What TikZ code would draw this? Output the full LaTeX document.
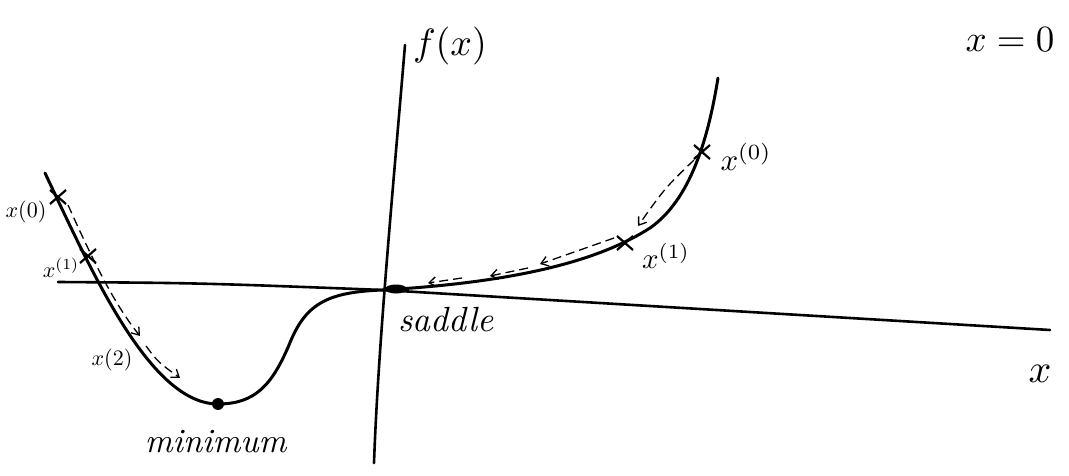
\documentclass[tikz,border=0pt]{standalone}
\usetikzlibrary{arrows.meta,shapes.geometric,calc}
\begin{document}
\begin{tikzpicture}[x=1pt,y=-1pt,
  axis/.style={line width=2.6pt,line cap=round},
  curve/.style={line width=3pt,line cap=round,line join=round},
  stepdash/.style={line width=1.3pt,dashed,dash pattern=on 9pt off 5pt,-{Straight Barb[length=7pt,width=10pt,line width=1.3pt]}},
  crossmark/.style={line width=2.2pt},
  dotmark/.style={fill=black,inner sep=0pt}]
\useasboundingbox (0,0) rectangle (1069,476);
% axes
\coordinate (hl) at (58,282);
\coordinate (hm) at (383,290);
\coordinate (hr) at (1050,330);
\coordinate (vt) at (405,45);
\coordinate (vb) at (374,463);
\draw[axis] (hl) .. controls (200,283) .. (hm) -- (hr);
\draw[axis] (vt) .. controls (392,200) and (378,350) .. (vb);
% curve
\coordinate (c0) at (45,173);
\coordinate (cmin) at (218,404);
\coordinate (cinf) at (289,345);
\coordinate (csad) at (383,290);
\coordinate (cr) at (650,228);
\coordinate (cend) at (718,78);
\draw[curve] (c0) .. controls (92,272) and (150,404) .. (cmin)
  .. controls (255,404) and (272,385) .. (cinf)
  .. controls (305,305) and (325,292) .. (csad)
  .. controls (520,282) and (600,260) .. (cr)
  .. controls (690,200) and (708,140) .. (cend);
% points
\node[dotmark,circle,minimum size=12pt] (min) at (cmin) {};
\node[dotmark,ellipse,minimum width=22pt,minimum height=9pt] (sad) at (396,289) {};
% crosses
\coordinate (l0) at (58,197);
\coordinate (l1) at (88,256);
\coordinate (r0) at (702,152);
\coordinate (r1) at (625,243);
\foreach \n in {l0,l1,r0,r1}{
  \draw[crossmark] ($(\n)+(-8,-7)$) -- ($(\n)+(8,7)$) ($(\n)+(-8,7)$) -- ($(\n)+(8,-7)$);
}
% dashed step arrows
\coordinate (a1) at (68,205);
\coordinate (a2) at (140,336);
\coordinate (a3) at (146,346);
\coordinate (a4) at (180,378);
\draw[stepdash] (a1) .. controls (95,265) and (115,305) .. (a2);
\draw[stepdash] (a3) .. controls (158,362) .. (a4);
\coordinate (b1) at (694,160);
\coordinate (b2) at (638,226);
\coordinate (b3) at (614,238);
\coordinate (b4) at (540,264);
\coordinate (b5) at (528,268);
\coordinate (b6) at (490,276);
\coordinate (b7) at (462,278);
\coordinate (b8) at (428,283);
\draw[stepdash] (b1) .. controls (665,188) .. (b2);
\draw[stepdash] (b3) .. controls (580,250) .. (b4);
\draw[stepdash] (b5) -- (b6);
\draw[stepdash] (b7) -- (b8);
% labels
\node[scale=3.8] (fx) at (450,46) {$f(x)$};
\node[scale=3.7] (xeq) at (1010,40) {$x = 0$};
\node[scale=4.0] (xax) at (1040,374) {$x$};
\node[scale=3.5] (sl) at (446,320) {\textit{saddle}};
\node[scale=3.4] (ml) at (216,442) {\textit{minimum}};
\node[scale=2.2] (xl0) at (26,212) {$x(0)$};
\node[scale=2.2] (xl1) at (61,268) {$x^{(1)}$};
\node[scale=2.2] (xl2) at (112,360) {$x(2)$};
\node[scale=3.1] (xr0) at (746,157) {$x^{(0)}$};
\node[scale=2.9] (xr1) at (666,256) {$x^{(1)}$};
\end{tikzpicture}
\end{document}
